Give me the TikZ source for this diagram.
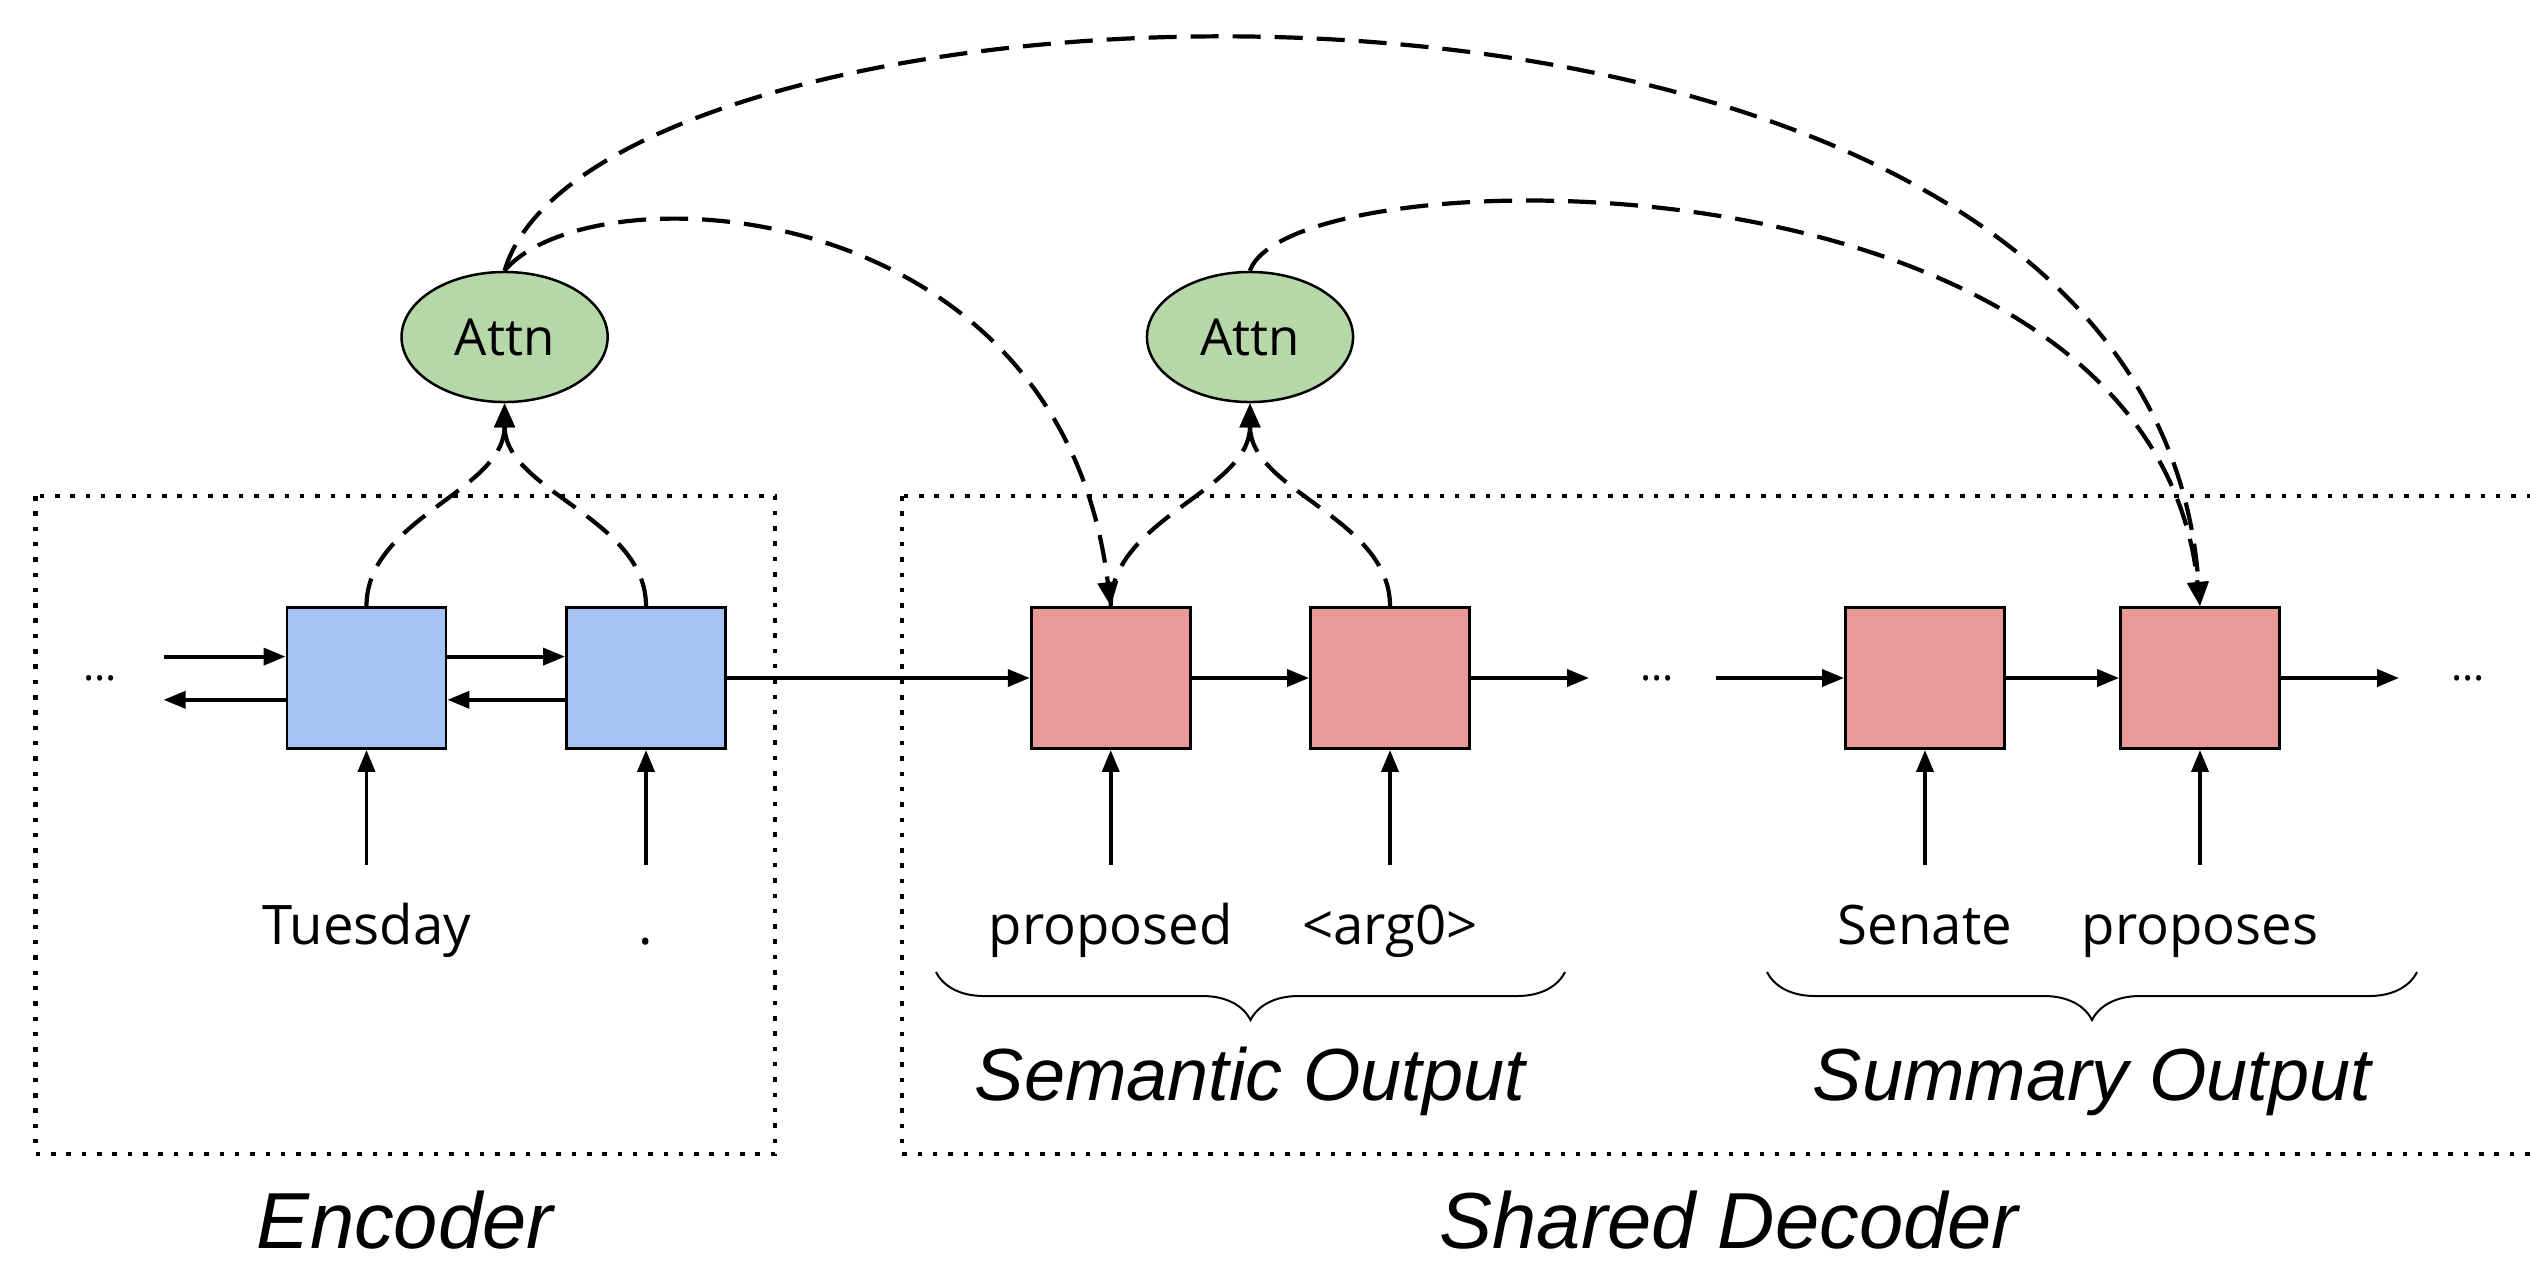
\documentclass[tikz,border=0pt]{standalone}
\usepackage{fontspec}
\setmainfont{Open Sans}
\newfontfamily\labelfont{Liberation Sans}
\usetikzlibrary{arrows.meta,shapes.geometric,calc,decorations.pathreplacing}
\definecolor{encblue}{HTML}{A4C2F4}
\definecolor{decred}{HTML}{EA9999}
\definecolor{attgreen}{HTML}{B6D7A8}
\begin{document}
\begin{tikzpicture}[x=0.01cm,y=-0.01cm,
  cell/.style={draw=black, line width=0.028cm, minimum width=1.59cm, minimum height=1.41cm, inner sep=0pt},
  enc/.style={cell, fill=encblue},
  dec/.style={cell, fill=decred},
  attn/.style={ellipse, draw=black, line width=0.025cm, fill=attgreen, minimum width=2.06cm, minimum height=1.30cm, inner sep=0pt, font=\fontsize{14.5}{16}\selectfont},
  flow/.style={line width=0.038cm, -{Triangle[length=0.22cm,width=0.17cm]}},
  attflow/.style={line width=0.042cm, dash pattern=on 0.28cm off 0.14cm, -{Triangle[length=0.24cm,width=0.20cm]}},
  word/.style={anchor=base, font=\fontsize{15.5}{18}\selectfont, inner sep=0pt},
  group/.style={line width=0.045cm, dash pattern=on 0.045cm off 0.108cm},
  title/.style={anchor=base, font=\labelfont\itshape\fontsize{21}{24}\selectfont, inner sep=0pt},
  frametitle/.style={anchor=base, font=\labelfont\itshape\fontsize{22.6}{26}\selectfont, inner sep=0pt},
  dots/.style={font=\fontsize{12}{14}\selectfont, inner sep=0pt},
  grouping/.style={decorate, decoration={brace, mirror, amplitude=0.48cm}, line width=0.02cm},
]
\useasboundingbox (0,0) rectangle (2530,1263);

% dotted frames around encoder and decoder
\draw[group] (35.6,496) rectangle (775,1154);
\draw[group] (902,496) rectangle (2620,1154);

% recurrent cells
\node[enc] (b1) at (366.5,678) {};
\node[enc] (b2) at (646,678) {};
\node[dec] (r1) at (1110.7,678) {};
\node[dec] (r2) at (1390,678) {};
\node[dec] (r3) at (1925,678) {};
\node[dec] (r4) at (2200,678) {};

% attention modules
\node[attn] (a1) at (504.6,337) {Attn};
\node[attn] (a2) at (1250,337) {Attn};

% continuation marks
\node[dots] (d0) at (100,678) {...};
\node[dots] (d1) at (1657,678) {...};
\node[dots] (d2) at (2468,678) {...};

% bidirectional encoder links
\coordinate (fwd) at (163.6,656.6);
\coordinate (bwd) at (163.6,699.8);
\draw[flow] (fwd) -- (fwd -| b1.west);
\draw[flow] (bwd -| b1.west) -- (bwd);
\draw[flow] (fwd -| b1.east) -- (fwd -| b2.west);
\draw[flow] (bwd -| b2.west) -- (bwd -| b1.east);

% decoder chain
\coordinate (out1) at (1589,678);
\coordinate (in2) at (1716,678);
\coordinate (out2) at (2399,678);
\draw[flow] (b2.east) -- (r1.west);
\draw[flow] (r1.east) -- (r2.west);
\draw[flow] (r2.east) -- (out1);
\draw[flow] (in2) -- (r3.west);
\draw[flow] (r3.east) -- (r4.west);
\draw[flow] (r4.east) -- (out2);

% token inputs
\foreach \c in {b1,b2,r1,r2,r3,r4}{
  \coordinate (src-\c) at ($(\c.south)+(0,115)$);
  \draw[flow] (src-\c) -- (\c.south);
}
\node[word] (t1) at (366.5,944) {Tuesday};
\node[word] (t2) at (646,944) {.};
\node[word] (t3) at (1110.7,944) {proposed};
\node[word] (t4) at (1390,944) {<arg0>};
\node[word] (t5) at (1925,944) {Senate};
\node[word] (t6) at (2200,944) {proposes};

% states feeding the attention modules
\draw[attflow] (b1.north) .. controls +(0,-88) and +(0,88) .. (a1.south);
\draw[attflow] (b2.north) .. controls +(0,-88) and +(0,88) .. (a1.south);
\draw[attflow] (r1.north) .. controls +(0,-88) and +(0,88) .. (a2.south);
\draw[attflow] (r2.north) .. controls +(0,-88) and +(0,88) .. (a2.south);

% attention context sent to decoder cells
\draw[attflow] (a1.north) .. controls +(85,-102) and +(-51,-417) .. (r1.north);
\draw[attflow] (a1.north) .. controls +(95,-322) and +(-50,-728) .. (r4.north);
\draw[attflow] (a2.north) .. controls +(40,-117) and +(-50,-468) .. (r4.north);

% output groups
\draw[grouping] (936,972) -- (1565,972);
\draw[grouping] (1767,972) -- (2417,972);
\node[title] (g1) at (1250,1100) {Semantic Output};
\node[title] (g2) at (2092,1100) {Summary Output};

% frame titles
\node[frametitle] (enc) at (405,1248) {Encoder};
\node[frametitle] (dec) at (1729,1248) {Shared Decoder};
\end{tikzpicture}
\end{document}
